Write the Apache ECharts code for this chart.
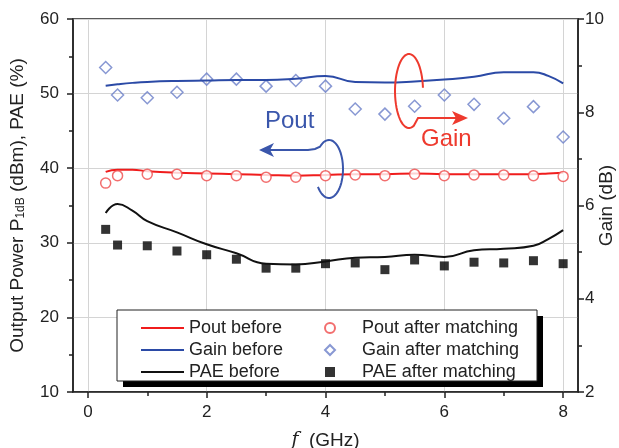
<!DOCTYPE html>
<html lang="en">
<head>
<meta charset="UTF-8">
<title>Pout / Gain / PAE vs f</title>
<script src="https://cdn.jsdelivr.net/npm/echarts@6/dist/echarts.min.js"></script>
<style>
    html, body { margin: 0; padding: 0; background: #fff; }
    #main { width: 619px; height: 448px; }
</style>
</head>
<body>
<div id="main"></div>
<script>
    // measured points after matching (GHz)
    var freqAfter = [0.3, 0.5, 1, 1.5, 2, 2.5, 3, 3.5, 4, 4.5, 5, 5.5, 6, 6.5, 7, 7.5, 8];
    var poutAfter = [38.0, 39.0, 39.2, 39.2, 39.0, 39.0, 38.8, 38.8, 39.0, 39.1, 39.0, 39.2, 39.0, 39.1, 39.1, 39.0, 38.9];
    var gainAfter = [8.96, 8.37, 8.31, 8.43, 8.71, 8.71, 8.56, 8.68, 8.56, 8.07, 7.96, 8.13, 8.37, 8.17, 7.87, 8.12, 7.47];
    var paeAfter = [31.8, 29.7, 29.6, 28.9, 28.4, 27.8, 26.6, 26.6, 27.2, 27.3, 26.4, 27.7, 26.9, 27.4, 27.3, 27.6, 27.2];

    // curves before matching
    var freqBefore = [0.3, 0.5, 0.75, 1, 1.5, 2, 2.5, 3, 3.5, 4, 4.5, 5, 5.5, 6, 6.5, 7, 7.5, 7.75, 8];
    var poutBefore = [39.5, 39.8, 39.8, 39.6, 39.4, 39.3, 39.2, 39.1, 39.0, 39.1, 39.2, 39.2, 39.3, 39.2, 39.2, 39.2, 39.2, 39.3, 39.4];
    var gainBefore = [8.57, 8.60, 8.63, 8.65, 8.67, 8.68, 8.69, 8.69, 8.72, 8.78, 8.65, 8.64, 8.66, 8.70, 8.76, 8.86, 8.86, 8.78, 8.62];
    var paeBefore = [34.0, 35.2, 34.3, 32.9, 31.4, 29.8, 28.6, 27.2, 27.1, 27.5, 28.0, 28.1, 28.4, 28.1, 29.0, 29.2, 29.6, 30.5, 31.7];

    // axis ticks
    var xMajorTicks = [0, 2, 4, 6, 8];
    var xMinorTicks = [1, 3, 5, 7];

    var legendLines = ['Pout before', 'Gain before', 'PAE before'];
    var legendMarks = ['Pout after matching', 'Gain after matching', 'PAE after matching'];

    function pairs(xs, ys) {
        var out = [];
        for (var i = 0; i < xs.length; i++) {
            out.push([xs[i], ys[i]]);
        }
        return out;
    }

    // points along an elliptical arc, angles in degrees (screen coords, y down)
    function ellipseArc(cx, cy, rx, ry, a0, a1) {
        var pts = [];
        var n = 48;
        for (var i = 0; i <= n; i++) {
            var a = (a0 + (a1 - a0) * i / n) * Math.PI / 180;
            pts.push([cx + rx * Math.cos(a), cy + ry * Math.sin(a)]);
        }
        return pts;
    }

    var poutLoop = [[268, 150], [308, 150], [315, 149]].concat(ellipseArc(329, 169, 14, 29, -130, 142));
    var gainLoop = ellipseArc(409, 91, 14, 37, -5, -290).concat([[418, 118], [458, 118]]);

    var font = 'Liberation Sans, Arial, sans-serif';
    var ink = '#222';
    var red = '#f01c1c';
    var blue = '#2b4aa6';

    var myChart = echarts.init(document.getElementById('main'));

    var option = {
        animation: false,
        textStyle: { fontFamily: font },
        grid: {
            left: 73, right: 41, top: 19, bottom: 56,
            containLabel: false, outerBoundsMode: 'none',
            show: true, borderColor: ink, borderWidth: 1.5, backgroundColor: 'transparent'
        },
        legend: [
            {
                data: legendLines, orient: 'vertical', left: 136, top: 313,
                icon: 'rect', itemWidth: 43, itemHeight: 2, itemGap: 2, selectedMode: false, z: 10,
                textStyle: { fontSize: 18, color: ink, fontFamily: font, lineHeight: 20, padding: [0, 0, 0, 0] }
            },
            {
                data: legendMarks, orient: 'vertical', left: 319, top: 313,
                itemWidth: 10, itemHeight: 10, itemGap: 2, selectedMode: false, z: 10,
                textStyle: { fontSize: 18, color: ink, fontFamily: font, lineHeight: 20, padding: [0, 0, 0, 22] }
            }
        ],
        xAxis: [
            {
                type: 'value', min: -0.25, max: 8.25,
                name: '{i|f}  (GHz)', nameLocation: 'middle', nameGap: 39,
                nameTextStyle: {
                    fontSize: 19, color: ink, fontFamily: font,
                    rich: { i: { fontSize: 19, fontStyle: 'italic', fontFamily: 'DejaVu Serif, serif', color: ink } }
                },
                axisLine: { show: true, onZero: false, lineStyle: { color: ink, width: 1.5 } },
                axisTick: { show: true, customValues: xMajorTicks, length: 6, lineStyle: { color: ink, width: 1.5 } },
                axisLabel: { customValues: xMajorTicks, fontSize: 17, color: ink, margin: 12 },
                splitLine: { show: true, lineStyle: { color: '#d4d4d4', width: 1 } }
            },
            {
                type: 'value', min: -0.25, max: 8.25, position: 'bottom',
                axisLine: { show: false, onZero: false },
                axisTick: { show: true, customValues: xMinorTicks, length: 4, lineStyle: { color: ink, width: 1.5 } },
                axisLabel: { show: false },
                splitLine: { show: false }
            }
        ],
        yAxis: [
            {
                type: 'value', min: 10, max: 60, interval: 10, position: 'left',
                name: 'Output Power P{sub|1dB} (dBm), PAE (%)', nameLocation: 'middle', nameGap: 46,
                nameMoveOverlap: false,
                nameTextStyle: {
                    fontSize: 19, color: ink, fontFamily: font,
                    rich: { sub: { fontSize: 12, verticalAlign: 'bottom', color: ink, fontFamily: font } }
                },
                axisLine: { show: true, onZero: false, lineStyle: { color: ink, width: 1.5 } },
                axisTick: { show: true, length: 6, lineStyle: { color: ink, width: 1.5 } },
                minorTick: { show: true, splitNumber: 2, length: 4, lineStyle: { color: ink, width: 1.5 } },
                axisLabel: { fontSize: 17, color: ink, margin: 14 },
                splitLine: { show: true, lineStyle: { color: '#d4d4d4', width: 1 } }
            },
            {
                type: 'value', min: 2, max: 10, interval: 2, position: 'right',
                name: 'Gain (dB)', nameLocation: 'middle', nameGap: 19,
                nameMoveOverlap: false,
                nameTextStyle: { fontSize: 19, color: ink, fontFamily: font },
                axisLine: { show: true, onZero: false, lineStyle: { color: ink, width: 1.5 } },
                axisTick: { show: true, length: 6, lineStyle: { color: ink, width: 1.5 } },
                minorTick: { show: true, splitNumber: 2, length: 4, lineStyle: { color: ink, width: 1.5 } },
                axisLabel: { fontSize: 17, color: ink, margin: 7 },
                splitLine: { show: false }
            }
        ],
        series: [
            {
                name: 'Pout before', type: 'line', smooth: true, symbol: 'none',
                data: pairs(freqBefore, poutBefore),
                lineStyle: { color: red, width: 2 }, itemStyle: { color: red }
            },
            {
                name: 'Gain before', type: 'line', smooth: true, symbol: 'none', yAxisIndex: 1,
                data: pairs(freqBefore, gainBefore),
                lineStyle: { color: blue, width: 2 }, itemStyle: { color: blue }
            },
            {
                name: 'PAE before', type: 'line', smooth: true, symbol: 'none',
                data: pairs(freqBefore, paeBefore),
                lineStyle: { color: '#111', width: 2 }, itemStyle: { color: '#111' }
            },
            {
                name: 'Pout after matching', type: 'scatter', symbol: 'circle', symbolSize: 10, z: 4,
                data: pairs(freqAfter, poutAfter),
                itemStyle: { color: '#fff', borderColor: '#ef4a4a', borderWidth: 1.5 }
            },
            {
                name: 'Gain after matching', type: 'scatter', symbol: 'diamond', symbolSize: 12, yAxisIndex: 1,
                data: pairs(freqAfter, gainAfter),
                itemStyle: { color: 'rgba(255,255,255,0)', borderColor: '#6a7ec8', borderWidth: 1.5 }
            },
            {
                name: 'PAE after matching', type: 'scatter', symbol: 'rect', symbolSize: 9,
                data: pairs(freqAfter, paeAfter),
                itemStyle: { color: '#000' }
            }
        ],
        graphic: [
            // legend frame with drop shadow
            { type: 'rect', z: 5, shape: { x: 123, y: 316, width: 420, height: 71 }, style: { fill: '#000' } },
            { type: 'rect', z: 6, shape: { x: 117, y: 310, width: 420, height: 71 }, style: { fill: '#fff', stroke: '#222', lineWidth: 1 } },
            // Pout annotation
            { type: 'text', z: 7, x: 265, y: 109, style: { text: 'Pout', font: '24px ' + font, fill: '#3a56ab' } },
            { type: 'polyline', z: 7, shape: { points: poutLoop }, style: { fill: null, stroke: '#3a56ab', lineWidth: 2 } },
            {
                type: 'polygon', z: 7,
                shape: { points: [[259, 150], [274, 143], [270, 150], [274, 157]] },
                style: { fill: '#3a56ab' }
            },
            // Gain annotation
            { type: 'text', z: 7, x: 421, y: 127, style: { text: 'Gain', font: '24px ' + font, fill: '#ee3a2e' } },
            { type: 'polyline', z: 7, shape: { points: gainLoop }, style: { fill: null, stroke: '#ee3a2e', lineWidth: 2 } },
            {
                type: 'polygon', z: 7,
                shape: { points: [[468, 118], [452, 111], [456, 118], [452, 125]] },
                style: { fill: '#ee3a2e' }
            }
        ]
    };

    myChart.setOption(option);
    window.addEventListener('resize', function () {
        myChart.resize();
    });
</script>
</body>
</html>
